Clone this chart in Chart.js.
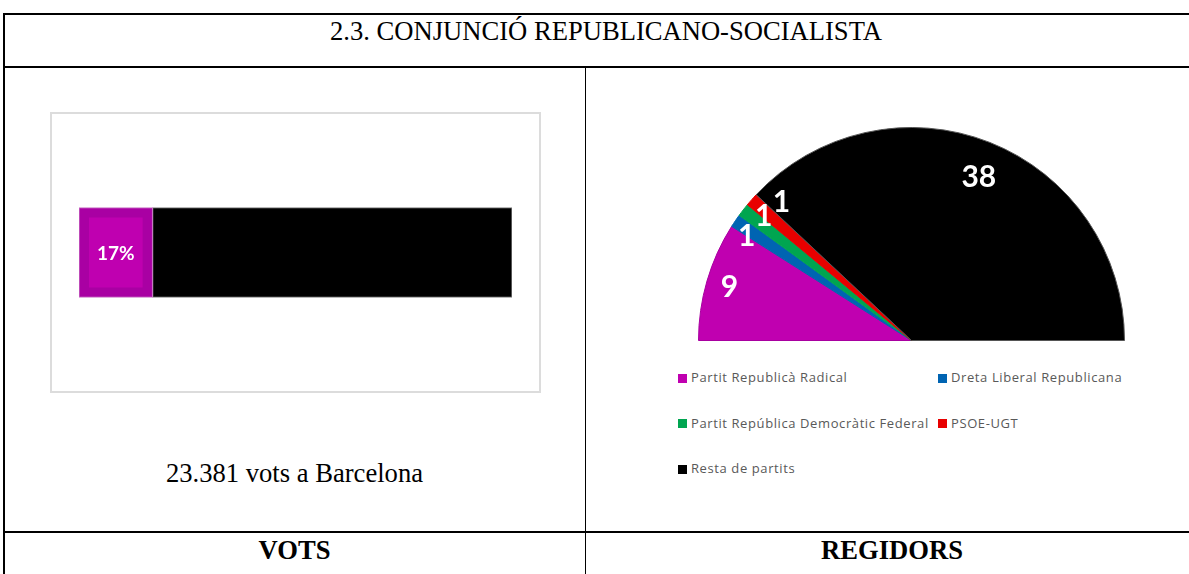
<!DOCTYPE html>
<html>
<head>
<meta charset="utf-8">
<script src="https://cdn.jsdelivr.net/npm/chart.js@4.4.0/dist/chart.umd.min.js"></script>
<style>
  html, body { margin: 0; padding: 0; background: #fff; }
  body { width: 1189px; height: 574px; position: relative; overflow: hidden;
         font-family: "Liberation Serif", "Times New Roman", serif; }
  .line { position: absolute; background: #000; }
  .txt { position: absolute; font-size: 26.6px; color: #000; text-align: center; white-space: nowrap; }
  #vote-box { position: absolute; left: 50px; top: 112px; width: 487px; height: 277px;
              border: 2px solid #dcdcdc; }
  #pie-box { position: absolute; left: 690px; top: 120px; width: 444px; height: 224px; }
  #legend { position: absolute; left: 678px; top: 366px; display: grid;
            grid-template-columns: 260px 220px; grid-auto-rows: 45.5px;
            font-family: "Open Sans", sans-serif; font-size: 13px; letter-spacing: 0.6px; color: #595959; }
  #legend div { line-height: 22px; white-space: nowrap; }
  #legend span { display: inline-block; width: 9px; height: 9px; margin-right: 4px; vertical-align: -0.5px; }
</style>
</head>
<body>
<!-- table frame -->
<div class="line" style="left:4px; top:13px; width:1200px; height:2px"></div>
<div class="line" style="left:3px; top:13px; width:2px; height:561px"></div>
<div class="line" style="left:4px; top:66px; width:1200px; height:2px"></div>
<div class="line" style="left:585px; top:67px; width:1px; height:507px"></div>
<div class="line" style="left:4px; top:531px; width:1200px; height:2px"></div>

<div class="txt" style="left:4px; width:1204px; top:16px">2.3. CONJUNCIÓ REPUBLICANO-SOCIALISTA</div>
<div class="txt" style="left:4px; width:581px; top:458px">23.381 vots a Barcelona</div>
<div class="txt" style="left:4px; width:581px; top:535px; font-weight:bold">VOTS</div>
<div class="txt" style="left:585px; width:614px; top:535px; font-weight:bold">REGIDORS</div>

<div id="vote-box"><canvas id="votes" width="487" height="277"></canvas></div>
<div id="pie-box"><canvas id="seats" width="444" height="224"></canvas></div>
<div id="legend"></div>

<script>
// vots: share of the vote (%)
let voteLabels = ["Conjunció Republicano-Socialista", "Resta"];
let voteShare = [17, 83];
let voteColors = ["#a900a3", "#000000"];

// regidors
let parties = [
  "Partit Republicà Radical",
  "Dreta Liberal Republicana",
  "Partit República Democràtic Federal",
  "PSOE-UGT",
  "Resta de partits",
];
let seats = [9, 1, 1, 1, 38];
let partyColors = ["#c000b0", "#0064b2", "#00a550", "#e80000", "#000000"];

// label for the purple part of the bar
const barLabel = {
  id: "barLabel",
  afterDatasetsDraw(chart, args, opts) {
    let ctx = chart.ctx;
    let el = chart.getDatasetMeta(0).data[0];
    let p = el.getProps(["x", "y", "base", "height"], true);
    ctx.save();
    ctx.fillStyle = opts.boxColor;
    ctx.fillRect(p.base + opts.inset, p.y - p.height / 2 + opts.inset,
                 p.x - p.base - 2 * opts.inset, p.height - 2 * opts.inset);
    ctx.fillStyle = "#fff";
    ctx.font = opts.font;
    ctx.textAlign = "center";
    ctx.textBaseline = "middle";
    ctx.fillText(voteShare[0] + "%", (p.x + p.base) / 2, p.y + 1);
    ctx.restore();
  },
};

// seat numbers on the half pie
const pieLabels = {
  id: "pieLabels",
  afterDatasetsDraw(chart, args, opts) {
    let ctx = chart.ctx;
    let meta = chart.getDatasetMeta(0);
    ctx.save();
    ctx.fillStyle = "#fff";
    ctx.font = opts.font;
    ctx.textAlign = "center";
    ctx.textBaseline = "middle";
    meta.data.forEach((arc, i) => {
      let p = arc.getProps(["x", "y", "startAngle", "endAngle", "outerRadius"], true);
      let a = (p.startAngle + p.endAngle) / 2 + opts.shift[i] * Math.PI / 180;
      let r = p.outerRadius * opts.radius[i];
      ctx.fillText(seats[i], p.x + Math.cos(a) * r, p.y + Math.sin(a) * r);
    });
    ctx.restore();
  },
};

new Chart(document.getElementById("votes"), {
  type: "bar",
  data: {
    labels: [""],
    datasets: voteShare.map((v, i) => ({
      label: voteLabels[i],
      data: [v],
      backgroundColor: voteColors[i],
      borderColor: i === 0 ? "#c870c4" : "#808080",
      borderWidth: 1,
      borderSkipped: false,
      barThickness: 90,
    })),
  },
  options: {
    indexAxis: "y",
    responsive: false,
    animation: false,
    layout: { padding: { left: 27, right: 27, top: 0, bottom: 0 } },
    scales: {
      x: { display: false, stacked: true, min: 0, max: 100 },
      y: { display: false, stacked: true },
    },
    plugins: {
      legend: { display: false },
      tooltip: { enabled: false },
      barLabel: { inset: 10, boxColor: "#bf00b0", font: "bold 19px Lato" },
    },
  },
  plugins: [barLabel],
});

new Chart(document.getElementById("seats"), {
  type: "pie",
  data: {
    labels: parties,
    datasets: [{
      data: seats,
      backgroundColor: partyColors,
      borderColor: ["#a800a0", "#0064b2", "#00a550", "#e80000", "#555555"],
      borderWidth: 1,
    }],
  },
  options: {
    responsive: false,
    animation: false,
    rotation: -90,
    circumference: 180,
    layout: { padding: { left: 8, right: 9, top: 7, bottom: 3 } },
    plugins: {
      legend: { display: false },
      tooltip: { enabled: false },
      pieLabels: {
        font: "bold 30px Lato",
        radius: [0.89, 0.915, 0.906, 0.89, 0.83],
        shift: [0, -2, 2.2, 5.3, 0.8],
      },
    },
  },
  plugins: [pieLabels],
});

// legend in two columns, built from the same arrays
let legend = document.getElementById("legend");
parties.forEach((name, i) => {
  let item = document.createElement("div");
  let box = document.createElement("span");
  box.style.background = partyColors[i];
  item.appendChild(box);
  item.appendChild(document.createTextNode(name));
  legend.appendChild(item);
});
</script>
</body>
</html>
